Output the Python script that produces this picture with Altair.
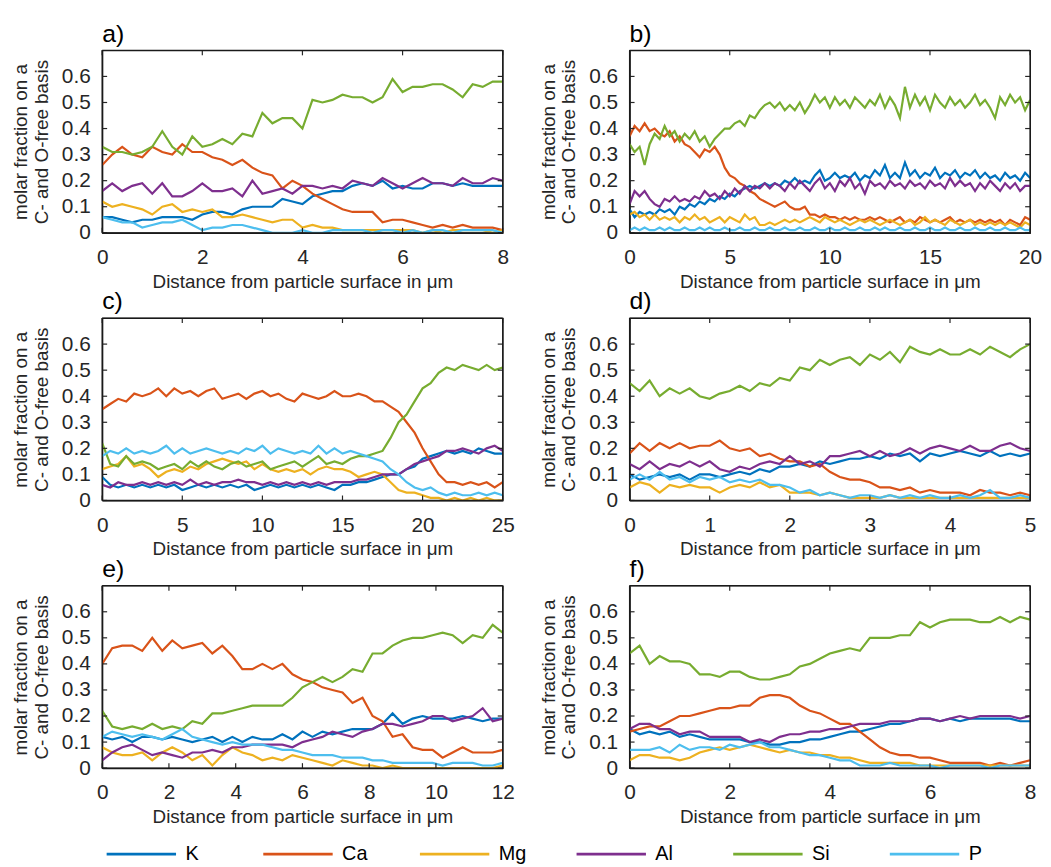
import altair as alt
import pandas as pd

ELEMENTS = ["K", "Ca", "Mg", "Al", "Si", "P"]
COLORS = ["#0072BD", "#D95319", "#EDB120", "#7E2F8E", "#77AC30", "#4DBEEE"]
Y_TICKS = [0, 0.1, 0.2, 0.3, 0.4, 0.5, 0.6]
Y_EDGES = [0, 0.7]
X_TITLE = "Distance from particle surface in μm"
Y_TITLE = ["molar fraction on a", "C- and O-free basis"]

# ---------------- panel a ----------------
X_A = [0, 0.2, 0.4, 0.6, 0.8, 1, 1.2, 1.4, 1.6, 1.8, 2, 2.2, 2.4, 2.6, 2.8, 3, 3.2, 3.4, 3.6, 3.8,
       4, 4.2, 4.4, 4.6, 4.8, 5, 5.2, 5.4, 5.6, 5.8, 6, 6.2, 6.4, 6.6, 6.8, 7, 7.2, 7.4, 7.6, 7.8, 8]
A_K = [0.06, 0.06, 0.05, 0.04, 0.05, 0.05, 0.06, 0.06, 0.06, 0.05, 0.07, 0.08, 0.08, 0.07, 0.09, 0.10, 0.10, 0.10, 0.13, 0.12,
       0.11, 0.14, 0.15, 0.16, 0.16, 0.18, 0.19, 0.18, 0.20, 0.17, 0.18, 0.17, 0.17, 0.19, 0.19, 0.18, 0.19, 0.18, 0.18, 0.18, 0.18]
A_Ca = [0.26, 0.30, 0.33, 0.30, 0.29, 0.33, 0.31, 0.30, 0.34, 0.31, 0.31, 0.29, 0.28, 0.26, 0.28, 0.25, 0.23, 0.22, 0.17, 0.20,
        0.18, 0.15, 0.13, 0.11, 0.09, 0.08, 0.08, 0.08, 0.04, 0.05, 0.05, 0.04, 0.03, 0.02, 0.03, 0.02, 0.03, 0.02, 0.02, 0.02, 0.01]
A_Mg = [0.12, 0.10, 0.11, 0.10, 0.09, 0.07, 0.10, 0.11, 0.08, 0.09, 0.08, 0.09, 0.06, 0.06, 0.07, 0.06, 0.05, 0.04, 0.05, 0.05,
        0.02, 0.03, 0.02, 0.02, 0.01, 0.01, 0.01, 0.01, 0.01, 0.01, 0.01, 0.01, 0.00, 0.01, 0.00, 0.01, 0.01, 0.01, 0.01, 0.00, 0.01]
A_Al = [0.16, 0.19, 0.16, 0.18, 0.19, 0.15, 0.19, 0.14, 0.14, 0.16, 0.19, 0.16, 0.16, 0.17, 0.14, 0.20, 0.15, 0.16, 0.17, 0.15,
        0.18, 0.18, 0.17, 0.18, 0.17, 0.20, 0.19, 0.18, 0.21, 0.19, 0.17, 0.19, 0.21, 0.19, 0.19, 0.18, 0.21, 0.19, 0.19, 0.21, 0.20]
A_Si = [0.33, 0.31, 0.31, 0.30, 0.31, 0.33, 0.39, 0.33, 0.30, 0.37, 0.33, 0.34, 0.36, 0.34, 0.38, 0.37, 0.46, 0.42, 0.44, 0.44,
        0.40, 0.51, 0.50, 0.51, 0.53, 0.52, 0.52, 0.50, 0.52, 0.59, 0.54, 0.56, 0.56, 0.57, 0.57, 0.55, 0.52, 0.57, 0.56, 0.58, 0.58]
A_P = [0.06, 0.05, 0.04, 0.04, 0.02, 0.03, 0.04, 0.04, 0.05, 0.03, 0.01, 0.02, 0.02, 0.03, 0.03, 0.02, 0.01, 0.00, 0.00, 0.00,
       0.01, 0.00, 0.00, 0.01, 0.01, 0.01, 0.01, 0.00, 0.01, 0.01, 0.00, 0.01, 0.00, 0.01, 0.01, 0.00, 0.01, 0.01, 0.01, 0.01, 0.00]

# ---------------- panel b ----------------
X_B = [0, 0.25, 0.5, 0.75, 1, 1.25, 1.5, 1.75, 2, 2.25, 2.5, 2.75, 3, 3.25, 3.5, 3.75, 4, 4.25, 4.5, 4.75,
       5, 5.25, 5.5, 5.75, 6, 6.25, 6.5, 6.75, 7, 7.25, 7.5, 7.75, 8, 8.25, 8.5, 8.75, 9, 9.25, 9.5, 9.75,
       10, 10.25, 10.5, 10.75, 11, 11.25, 11.5, 11.75, 12, 12.25, 12.5, 12.75, 13, 13.25, 13.5, 13.75, 14, 14.25, 14.5, 14.75,
       15, 15.25, 15.5, 15.75, 16, 16.25, 16.5, 16.75, 17, 17.25, 17.5, 17.75, 18, 18.25, 18.5, 18.75, 19, 19.25, 19.5, 19.75, 20]
B_K = [0.09, 0.06, 0.08, 0.07, 0.08, 0.07, 0.09, 0.08, 0.09, 0.07, 0.10, 0.09, 0.11, 0.10, 0.12, 0.11, 0.13, 0.12, 0.14, 0.13,
       0.15, 0.14, 0.16, 0.17, 0.18, 0.17, 0.18, 0.19, 0.18, 0.19, 0.18, 0.20, 0.19, 0.21, 0.19, 0.20, 0.19, 0.22, 0.24, 0.20,
       0.21, 0.23, 0.21, 0.22, 0.21, 0.23, 0.20, 0.22, 0.21, 0.24, 0.22, 0.26, 0.21, 0.23, 0.21, 0.27, 0.22, 0.24, 0.21, 0.23,
       0.22, 0.25, 0.21, 0.23, 0.22, 0.24, 0.21, 0.23, 0.22, 0.24, 0.21, 0.23, 0.21, 0.22, 0.20, 0.23, 0.21, 0.22, 0.20, 0.23, 0.21]
B_Ca = [0.37, 0.41, 0.39, 0.42, 0.39, 0.40, 0.38, 0.37, 0.39, 0.35, 0.37, 0.34, 0.33, 0.31, 0.29, 0.32, 0.31, 0.33, 0.30, 0.25,
        0.22, 0.21, 0.19, 0.18, 0.16, 0.15, 0.13, 0.12, 0.11, 0.10, 0.11, 0.12, 0.10, 0.09, 0.09, 0.10, 0.07, 0.07, 0.06, 0.07,
        0.06, 0.06, 0.05, 0.06, 0.05, 0.06, 0.05, 0.05, 0.06, 0.05, 0.06, 0.05, 0.04, 0.05, 0.06, 0.04, 0.05, 0.04, 0.06, 0.05,
        0.04, 0.05, 0.04, 0.05, 0.06, 0.04, 0.05, 0.04, 0.05, 0.04, 0.05, 0.04, 0.05, 0.04, 0.05, 0.03, 0.05, 0.04, 0.03, 0.06, 0.05]
B_Mg = [0.07, 0.08, 0.06, 0.07, 0.05, 0.07, 0.05, 0.06, 0.05, 0.06, 0.04, 0.06, 0.05, 0.07, 0.05, 0.06, 0.04, 0.05, 0.06, 0.04,
        0.06, 0.05, 0.04, 0.07, 0.05, 0.06, 0.03, 0.03, 0.04, 0.03, 0.04, 0.05, 0.04, 0.05, 0.04, 0.05, 0.06, 0.05, 0.04, 0.06,
        0.05, 0.04, 0.05, 0.04, 0.03, 0.04, 0.05, 0.04, 0.05, 0.04, 0.03, 0.04, 0.05, 0.04, 0.03, 0.04, 0.05, 0.03, 0.04, 0.06,
        0.04, 0.05, 0.04, 0.03, 0.05, 0.04, 0.03, 0.04, 0.05, 0.03, 0.04, 0.03, 0.04, 0.03, 0.04, 0.03, 0.04, 0.03, 0.02, 0.04, 0.03]
B_Al = [0.11, 0.16, 0.14, 0.16, 0.13, 0.11, 0.10, 0.13, 0.12, 0.14, 0.12, 0.13, 0.12, 0.14, 0.13, 0.16, 0.14, 0.15, 0.13, 0.16,
        0.14, 0.17, 0.15, 0.18, 0.16, 0.18, 0.17, 0.19, 0.17, 0.19, 0.18, 0.16, 0.19, 0.17, 0.20, 0.18, 0.16, 0.19, 0.21, 0.17,
        0.19, 0.16, 0.20, 0.18, 0.21, 0.17, 0.19, 0.15, 0.20, 0.18, 0.19, 0.17, 0.20, 0.18, 0.19, 0.17, 0.20, 0.18, 0.19, 0.17,
        0.20, 0.18, 0.19, 0.17, 0.21, 0.18, 0.20, 0.18, 0.19, 0.16, 0.19, 0.17, 0.20, 0.18, 0.16, 0.19, 0.17, 0.19, 0.16, 0.18, 0.18]
B_Si = [0.34, 0.31, 0.33, 0.26, 0.34, 0.38, 0.36, 0.41, 0.37, 0.39, 0.35, 0.38, 0.36, 0.39, 0.35, 0.37, 0.33, 0.36, 0.38, 0.40,
        0.40, 0.42, 0.43, 0.41, 0.45, 0.44, 0.47, 0.49, 0.50, 0.48, 0.50, 0.47, 0.49, 0.47, 0.50, 0.46, 0.49, 0.53, 0.50, 0.52,
        0.48, 0.52, 0.49, 0.51, 0.48, 0.52, 0.50, 0.48, 0.51, 0.49, 0.53, 0.48, 0.52, 0.49, 0.44, 0.56, 0.48, 0.53, 0.49, 0.52,
        0.47, 0.53, 0.50, 0.48, 0.52, 0.49, 0.51, 0.48, 0.50, 0.53, 0.49, 0.51, 0.48, 0.44, 0.52, 0.49, 0.53, 0.50, 0.52, 0.47, 0.51]
B_P = [0.01, 0.02, 0.01, 0.02, 0.01, 0.01, 0.02, 0.01, 0.02, 0.01, 0.01, 0.02, 0.01, 0.01, 0.02, 0.01, 0.02, 0.01, 0.01, 0.02,
       0.01, 0.01, 0.02, 0.01, 0.01, 0.02, 0.01, 0.01, 0.02, 0.01, 0.01, 0.02, 0.01, 0.01, 0.02, 0.01, 0.01, 0.02, 0.01, 0.01,
       0.02, 0.01, 0.01, 0.02, 0.01, 0.01, 0.02, 0.01, 0.01, 0.02, 0.01, 0.02, 0.01, 0.01, 0.02, 0.01, 0.01, 0.02, 0.01, 0.01,
       0.02, 0.01, 0.01, 0.02, 0.01, 0.01, 0.02, 0.01, 0.01, 0.02, 0.01, 0.01, 0.02, 0.01, 0.01, 0.02, 0.01, 0.01, 0.02, 0.01, 0.01]

# ---------------- panel c ----------------
X_C = [0, 0.5, 1, 1.5, 2, 2.5, 3, 3.5, 4, 4.5, 5, 5.5, 6, 6.5, 7, 7.5, 8, 8.5, 9, 9.5,
       10, 10.5, 11, 11.5, 12, 12.5, 13, 13.5, 14, 14.5, 15, 15.5, 16, 16.5, 17, 17.5, 18, 18.5, 19, 19.5,
       20, 20.5, 21, 21.5, 22, 22.5, 23, 23.5, 24, 24.5, 25]
C_K = [0.09, 0.06, 0.05, 0.06, 0.05, 0.06, 0.05, 0.06, 0.05, 0.06, 0.04, 0.05, 0.06, 0.05, 0.06, 0.05, 0.06, 0.05, 0.06, 0.04,
       0.05, 0.06, 0.05, 0.06, 0.05, 0.06, 0.05, 0.06, 0.05, 0.04, 0.06, 0.06, 0.07, 0.07, 0.08, 0.09, 0.10, 0.10, 0.12, 0.13,
       0.16, 0.17, 0.18, 0.19, 0.18, 0.19, 0.18, 0.20, 0.19, 0.18, 0.18]
C_Ca = [0.35, 0.37, 0.39, 0.38, 0.41, 0.40, 0.41, 0.43, 0.40, 0.43, 0.41, 0.42, 0.40, 0.42, 0.43, 0.39, 0.40, 0.41, 0.39, 0.41,
        0.42, 0.40, 0.41, 0.39, 0.38, 0.41, 0.40, 0.39, 0.40, 0.42, 0.40, 0.40, 0.41, 0.40, 0.38, 0.38, 0.36, 0.34, 0.30, 0.26,
        0.20, 0.15, 0.10, 0.07, 0.07, 0.06, 0.07, 0.06, 0.07, 0.05, 0.07]
C_Mg = [0.12, 0.13, 0.14, 0.17, 0.13, 0.14, 0.12, 0.09, 0.11, 0.12, 0.11, 0.13, 0.12, 0.14, 0.15, 0.16, 0.15, 0.14, 0.15, 0.12,
        0.14, 0.12, 0.11, 0.12, 0.11, 0.12, 0.10, 0.12, 0.13, 0.12, 0.12, 0.11, 0.09, 0.10, 0.11, 0.10, 0.07, 0.04, 0.03, 0.03,
        0.02, 0.01, 0.01, 0.00, 0.01, 0.00, 0.01, 0.00, 0.01, 0.00, 0.00]
C_Al = [0.06, 0.05, 0.07, 0.06, 0.06, 0.07, 0.06, 0.07, 0.06, 0.07, 0.06, 0.08, 0.06, 0.07, 0.06, 0.07, 0.07, 0.08, 0.07, 0.07,
        0.06, 0.07, 0.06, 0.07, 0.06, 0.07, 0.06, 0.07, 0.06, 0.07, 0.07, 0.07, 0.08, 0.08, 0.09, 0.10, 0.10, 0.10, 0.12, 0.14,
        0.15, 0.16, 0.17, 0.19, 0.19, 0.20, 0.19, 0.18, 0.20, 0.21, 0.19]
C_Si = [0.22, 0.14, 0.13, 0.17, 0.14, 0.15, 0.14, 0.12, 0.13, 0.14, 0.12, 0.15, 0.13, 0.15, 0.13, 0.12, 0.14, 0.15, 0.13, 0.14,
        0.15, 0.12, 0.13, 0.14, 0.15, 0.13, 0.15, 0.17, 0.14, 0.15, 0.14, 0.16, 0.17, 0.17, 0.18, 0.19, 0.24, 0.30, 0.33, 0.38,
        0.43, 0.45, 0.49, 0.51, 0.50, 0.52, 0.51, 0.50, 0.52, 0.50, 0.51]
C_P = [0.17, 0.19, 0.18, 0.20, 0.18, 0.19, 0.18, 0.19, 0.21, 0.18, 0.20, 0.18, 0.19, 0.20, 0.19, 0.18, 0.19, 0.18, 0.20, 0.19,
       0.21, 0.18, 0.20, 0.19, 0.18, 0.19, 0.18, 0.21, 0.18, 0.20, 0.18, 0.19, 0.18, 0.17, 0.16, 0.15, 0.12, 0.10, 0.07, 0.05,
       0.04, 0.05, 0.03, 0.02, 0.03, 0.02, 0.02, 0.03, 0.02, 0.03, 0.02]

# ---------------- panel d ----------------
X_D = [0, 0.125, 0.25, 0.375, 0.5, 0.625, 0.75, 0.875, 1, 1.125, 1.25, 1.375, 1.5, 1.625, 1.75, 1.875, 2, 2.125, 2.25, 2.375,
       2.5, 2.625, 2.75, 2.875, 3, 3.125, 3.25, 3.375, 3.5, 3.625, 3.75, 3.875, 4, 4.125, 4.25, 4.375, 4.5, 4.625, 4.75, 4.875, 5]
D_K = [0.10, 0.08, 0.09, 0.10, 0.09, 0.10, 0.08, 0.10, 0.10, 0.09, 0.10, 0.11, 0.10, 0.12, 0.11, 0.13, 0.13, 0.14, 0.13, 0.15,
       0.14, 0.15, 0.16, 0.16, 0.17, 0.16, 0.18, 0.17, 0.18, 0.15, 0.18, 0.17, 0.18, 0.19, 0.18, 0.17, 0.19, 0.17, 0.18, 0.17, 0.18]
D_Ca = [0.18, 0.22, 0.19, 0.22, 0.20, 0.22, 0.20, 0.21, 0.21, 0.23, 0.20, 0.19, 0.20, 0.17, 0.18, 0.16, 0.15, 0.15, 0.13, 0.14,
        0.11, 0.09, 0.08, 0.08, 0.07, 0.05, 0.05, 0.04, 0.05, 0.03, 0.04, 0.03, 0.03, 0.03, 0.02, 0.04, 0.03, 0.03, 0.02, 0.03, 0.02]
D_Mg = [0.05, 0.07, 0.06, 0.03, 0.06, 0.05, 0.06, 0.05, 0.05, 0.03, 0.05, 0.06, 0.05, 0.07, 0.05, 0.06, 0.03, 0.03, 0.03, 0.02,
        0.03, 0.02, 0.01, 0.01, 0.01, 0.01, 0.02, 0.01, 0.01, 0.01, 0.01, 0.01, 0.01, 0.01, 0.01, 0.01, 0.01, 0.01, 0.01, 0.01, 0.01]
D_Al = [0.14, 0.12, 0.15, 0.12, 0.14, 0.13, 0.15, 0.13, 0.15, 0.12, 0.11, 0.13, 0.12, 0.14, 0.15, 0.14, 0.17, 0.14, 0.15, 0.13,
        0.17, 0.17, 0.18, 0.19, 0.17, 0.19, 0.17, 0.18, 0.20, 0.18, 0.20, 0.21, 0.20, 0.19, 0.21, 0.19, 0.19, 0.21, 0.22, 0.20, 0.19]
D_Si = [0.45, 0.42, 0.46, 0.40, 0.43, 0.41, 0.43, 0.40, 0.39, 0.41, 0.42, 0.44, 0.42, 0.45, 0.44, 0.47, 0.46, 0.51, 0.50, 0.54,
        0.52, 0.54, 0.55, 0.52, 0.56, 0.54, 0.57, 0.53, 0.59, 0.57, 0.56, 0.58, 0.56, 0.56, 0.58, 0.56, 0.59, 0.57, 0.55, 0.58, 0.60]
D_P = [0.08, 0.10, 0.08, 0.11, 0.08, 0.09, 0.07, 0.09, 0.08, 0.09, 0.07, 0.08, 0.07, 0.08, 0.06, 0.06, 0.05, 0.03, 0.04, 0.02,
       0.03, 0.02, 0.01, 0.02, 0.02, 0.01, 0.02, 0.01, 0.02, 0.01, 0.02, 0.01, 0.01, 0.02, 0.01, 0.02, 0.04, 0.01, 0.01, 0.02, 0.01]

# ---------------- panel e ----------------
X_E = [0, 0.3, 0.6, 0.9, 1.2, 1.5, 1.8, 2.1, 2.4, 2.7, 3, 3.3, 3.6, 3.9, 4.2, 4.5, 4.8, 5.1, 5.4, 5.7,
       6, 6.3, 6.6, 6.9, 7.2, 7.5, 7.8, 8.1, 8.4, 8.7, 9, 9.3, 9.6, 9.9, 10.2, 10.5, 10.8, 11.1, 11.4, 11.7, 12]
E_K = [0.12, 0.11, 0.12, 0.10, 0.12, 0.12, 0.11, 0.12, 0.11, 0.10, 0.11, 0.12, 0.10, 0.12, 0.10, 0.12, 0.11, 0.11, 0.13, 0.11,
       0.14, 0.12, 0.14, 0.13, 0.14, 0.15, 0.15, 0.15, 0.17, 0.21, 0.17, 0.19, 0.20, 0.19, 0.19, 0.19, 0.20, 0.19, 0.18, 0.19, 0.19]
E_Ca = [0.40, 0.46, 0.47, 0.47, 0.45, 0.50, 0.45, 0.49, 0.46, 0.47, 0.48, 0.44, 0.47, 0.43, 0.38, 0.38, 0.40, 0.38, 0.40, 0.36,
        0.34, 0.33, 0.31, 0.30, 0.29, 0.25, 0.27, 0.20, 0.18, 0.12, 0.13, 0.08, 0.07, 0.07, 0.04, 0.06, 0.08, 0.06, 0.06, 0.06, 0.07]
E_Mg = [0.08, 0.06, 0.05, 0.05, 0.06, 0.03, 0.06, 0.08, 0.06, 0.03, 0.05, 0.01, 0.05, 0.08, 0.06, 0.05, 0.03, 0.04, 0.03, 0.05,
        0.04, 0.03, 0.02, 0.01, 0.03, 0.02, 0.01, 0.01, 0.00, 0.01, 0.00, 0.00, 0.00, 0.00, 0.00, 0.00, 0.00, 0.00, 0.00, 0.00, 0.01]
E_Al = [0.03, 0.06, 0.08, 0.09, 0.07, 0.05, 0.06, 0.05, 0.04, 0.06, 0.06, 0.07, 0.06, 0.08, 0.08, 0.09, 0.09, 0.09, 0.09, 0.08,
        0.10, 0.11, 0.12, 0.14, 0.13, 0.12, 0.14, 0.15, 0.17, 0.17, 0.16, 0.17, 0.18, 0.20, 0.20, 0.18, 0.19, 0.20, 0.23, 0.18, 0.19]
E_Si = [0.22, 0.16, 0.15, 0.16, 0.15, 0.17, 0.15, 0.16, 0.15, 0.18, 0.17, 0.21, 0.21, 0.22, 0.23, 0.24, 0.24, 0.24, 0.24, 0.27,
        0.31, 0.33, 0.35, 0.33, 0.35, 0.38, 0.37, 0.44, 0.44, 0.47, 0.49, 0.50, 0.50, 0.51, 0.52, 0.51, 0.48, 0.51, 0.50, 0.55, 0.52]
E_P = [0.12, 0.14, 0.13, 0.12, 0.13, 0.12, 0.11, 0.13, 0.15, 0.12, 0.11, 0.10, 0.09, 0.10, 0.09, 0.09, 0.09, 0.08, 0.07, 0.07,
       0.06, 0.05, 0.05, 0.05, 0.04, 0.04, 0.04, 0.03, 0.03, 0.02, 0.02, 0.02, 0.02, 0.02, 0.01, 0.02, 0.02, 0.02, 0.01, 0.01, 0.02]

# ---------------- panel f ----------------
X_F = [0, 0.2, 0.4, 0.6, 0.8, 1, 1.2, 1.4, 1.6, 1.8, 2, 2.2, 2.4, 2.6, 2.8, 3, 3.2, 3.4, 3.6, 3.8,
       4, 4.2, 4.4, 4.6, 4.8, 5, 5.2, 5.4, 5.6, 5.8, 6, 6.2, 6.4, 6.6, 6.8, 7, 7.2, 7.4, 7.6, 7.8, 8]
F_K = [0.15, 0.13, 0.14, 0.13, 0.14, 0.12, 0.13, 0.12, 0.11, 0.11, 0.11, 0.11, 0.10, 0.10, 0.09, 0.09, 0.10, 0.10, 0.11, 0.11,
       0.12, 0.13, 0.14, 0.14, 0.15, 0.16, 0.17, 0.17, 0.18, 0.19, 0.19, 0.18, 0.19, 0.18, 0.19, 0.19, 0.19, 0.19, 0.19, 0.18, 0.18]
F_Ca = [0.14, 0.15, 0.16, 0.16, 0.18, 0.20, 0.20, 0.21, 0.22, 0.23, 0.23, 0.24, 0.24, 0.27, 0.28, 0.28, 0.27, 0.24, 0.22, 0.21,
        0.19, 0.17, 0.17, 0.14, 0.11, 0.08, 0.06, 0.05, 0.05, 0.04, 0.04, 0.03, 0.02, 0.02, 0.02, 0.02, 0.01, 0.02, 0.01, 0.02, 0.03]
F_Mg = [0.03, 0.05, 0.05, 0.04, 0.04, 0.03, 0.04, 0.06, 0.07, 0.08, 0.07, 0.08, 0.09, 0.08, 0.07, 0.06, 0.07, 0.06, 0.06, 0.05,
        0.05, 0.04, 0.04, 0.03, 0.02, 0.02, 0.02, 0.02, 0.02, 0.01, 0.01, 0.01, 0.01, 0.01, 0.01, 0.01, 0.01, 0.01, 0.01, 0.01, 0.01]
F_Al = [0.15, 0.17, 0.17, 0.15, 0.15, 0.13, 0.14, 0.14, 0.12, 0.12, 0.12, 0.12, 0.10, 0.11, 0.10, 0.12, 0.13, 0.13, 0.14, 0.14,
        0.15, 0.15, 0.16, 0.17, 0.17, 0.17, 0.18, 0.18, 0.18, 0.19, 0.19, 0.18, 0.19, 0.20, 0.19, 0.20, 0.20, 0.20, 0.20, 0.19, 0.20]
F_Si = [0.44, 0.47, 0.40, 0.43, 0.41, 0.41, 0.40, 0.36, 0.36, 0.35, 0.37, 0.37, 0.35, 0.34, 0.34, 0.35, 0.36, 0.39, 0.40, 0.42,
        0.44, 0.45, 0.46, 0.45, 0.50, 0.50, 0.50, 0.51, 0.51, 0.56, 0.54, 0.56, 0.57, 0.57, 0.57, 0.56, 0.56, 0.58, 0.56, 0.58, 0.57]
F_P = [0.07, 0.07, 0.07, 0.08, 0.06, 0.09, 0.07, 0.08, 0.08, 0.07, 0.09, 0.08, 0.09, 0.10, 0.08, 0.08, 0.07, 0.06, 0.05, 0.05,
       0.04, 0.03, 0.03, 0.01, 0.01, 0.01, 0.02, 0.01, 0.01, 0.01, 0.01, 0.00, 0.01, 0.01, 0.01, 0.01, 0.00, 0.01, 0.01, 0.01, 0.01]

PANELS = [
    ("a)", X_A, [A_K, A_Ca, A_Mg, A_Al, A_Si, A_P], 8, [0, 2, 4, 6, 8]),
    ("b)", X_B, [B_K, B_Ca, B_Mg, B_Al, B_Si, B_P], 20, [0, 5, 10, 15, 20]),
    ("c)", X_C, [C_K, C_Ca, C_Mg, C_Al, C_Si, C_P], 25, [0, 5, 10, 15, 20, 25]),
    ("d)", X_D, [D_K, D_Ca, D_Mg, D_Al, D_Si, D_P], 5, [0, 1, 2, 3, 4, 5]),
    ("e)", X_E, [E_K, E_Ca, E_Mg, E_Al, E_Si, E_P], 12, [0, 2, 4, 6, 8, 10, 12]),
    ("f)", X_F, [F_K, F_Ca, F_Mg, F_Al, F_Si, F_P], 8, [0, 2, 4, 6, 8]),
]

W, H = 404, 184
FONT = "Liberation Sans"
INK = "#262626"
FRAME = "#1a1a1a"
TICK = 5

LEGEND = alt.Legend(
    orient="none", legendX=3, legendY=774, direction="horizontal", title=None,
    symbolType="stroke", symbolSize=4900, symbolStrokeWidth=3,
    labelFontSize=20, labelFont=FONT, labelColor="black", labelOffset=8,
    columnPadding=44, gridAlign="all", padding=0,
)


def make_panel(label, xs, series, xmax, xticks):
    rows = []
    for el, ys in zip(ELEMENTS, series):
        for x, y in zip(xs, ys):
            rows.append({"x": x, "y": y, "el": el})
    df = pd.DataFrame(rows)
    xscale = alt.Scale(domain=[0, xmax], nice=False, zero=False)
    yscale = alt.Scale(domain=[0, 0.7], nice=False)
    xaxis = alt.Axis(values=xticks, format="~g", title=X_TITLE)
    yaxis = alt.Axis(values=Y_TICKS, format="~g", title=Y_TITLE)

    lines = alt.Chart(df).mark_line(strokeWidth=2.2, clip=True).encode(
        x=alt.X("x:Q", scale=xscale, axis=xaxis, title=X_TITLE),
        y=alt.Y("y:Q", scale=yscale, axis=yaxis, title=Y_TITLE),
        color=alt.Color("el:N", scale=alt.Scale(domain=ELEMENTS, range=COLORS), legend=LEGEND),
    )
    xt = pd.DataFrame({"x": xticks})
    yt = pd.DataFrame({"y": Y_TICKS})
    xe = pd.DataFrame({"x": [0, xmax]})
    ye = pd.DataFrame({"y": Y_EDGES})
    top = alt.Chart(xt).mark_rule(color=INK, strokeWidth=1.2).encode(
        x=alt.X("x:Q", scale=xscale, axis=xaxis, title=X_TITLE), y=alt.value(0), y2=alt.value(TICK))
    bot = alt.Chart(xt).mark_rule(color=INK, strokeWidth=1.2).encode(
        x=alt.X("x:Q", scale=xscale, axis=xaxis, title=X_TITLE), y=alt.value(H), y2=alt.value(H - TICK))
    left = alt.Chart(yt).mark_rule(color=INK, strokeWidth=1.2).encode(
        y=alt.Y("y:Q", scale=yscale, axis=yaxis, title=Y_TITLE), x=alt.value(0), x2=alt.value(TICK))
    right = alt.Chart(yt).mark_rule(color=INK, strokeWidth=1.2).encode(
        y=alt.Y("y:Q", scale=yscale, axis=yaxis, title=Y_TITLE), x=alt.value(W), x2=alt.value(W - TICK))
    # box edges, placed through the scales at the domain limits
    vedges = alt.Chart(xe).mark_rule(color=FRAME, strokeWidth=1.3).encode(
        x=alt.X("x:Q", scale=xscale, axis=xaxis, title=X_TITLE), y=alt.value(0), y2=alt.value(H))
    hedges = alt.Chart(ye).mark_rule(color=FRAME, strokeWidth=1.3).encode(
        y=alt.Y("y:Q", scale=yscale, axis=yaxis, title=Y_TITLE), x=alt.value(0), x2=alt.value(W))

    return alt.layer(lines, top, bot, left, right, vedges, hedges).properties(
        width=W, height=H,
        title=alt.TitleParams(label, anchor="start", frame="group", fontSize=25, font=FONT,
                              fontWeight="normal", color="black", offset=3),
    )


charts = [make_panel(*p) for p in PANELS]

chart = alt.concat(
    *charts, columns=2, spacing={"row": 86, "column": 128}, bounds="flush"
).properties(
    padding={"left": 3, "top": 9, "right": 0, "bottom": 0}
).configure_view(
    stroke=FRAME, strokeWidth=1.2
).configure_axis(
    labelFont=FONT, titleFont=FONT, labelFontSize=21, titleFontSize=19,
    labelColor=INK, titleColor=INK, titleFontWeight="normal",
    domain=True, domainColor=FRAME, domainWidth=1.2,
    ticks=False, tickSize=0, grid=False,
    labelFlush=False, labelOverlap=False,
).configure_axisX(
    labelPadding=14, titlePadding=5,
).configure_axisY(
    labelPadding=12, titlePadding=10, titleLineHeight=21,
)

chart.save("out.html", embed_options={"renderer": "svg", "actions": False})
